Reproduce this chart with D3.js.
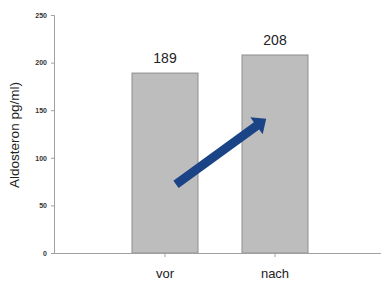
<!DOCTYPE html>
<html><head><meta charset="utf-8">
<script src="https://cdn.jsdelivr.net/npm/d3@7"></script>
<style>body{margin:0;background:#fff}svg{display:block}</style>
</head><body>
<svg id="c" width="381" height="281"></svg>
<script>
const categories = ["vor", "nach"];
const values = [189, 208];
const yTicks = [0, 50, 100, 150, 200, 250];
const yLabel = "Aldosteron pg/ml)";
// arrow annotation in data coordinates: [offset from first category in steps, value]
const arrowFrom = [0.10, 72];
const arrowTo = [0.92, 141];

const svg = d3.select("#c");
const x = d3.scaleBand().domain(categories).range([54, 386]).paddingInner(0.4).paddingOuter(0.709);
const y = d3.scaleLinear().domain([0, 250]).range([253, 15]);
const font = "'Liberation Sans', Arial, sans-serif";

// y axis
const ya = svg.append("g").attr("transform", "translate(54,0)")
  .call(d3.axisLeft(y).tickValues(yTicks).tickSize(3).tickPadding(4));
ya.select(".domain").attr("stroke", "#a0a0a0");
ya.selectAll(".tick line").attr("stroke", "#a0a0a0");
ya.selectAll(".tick text").attr("font-family", font).attr("font-size", 7).attr("font-weight", "bold").attr("fill", "#333");

// bars
svg.selectAll("rect.bar").data(values).join("rect").attr("class", "bar")
  .attr("x", (d, i) => x(categories[i]))
  .attr("y", d => y(d))
  .attr("width", x.bandwidth())
  .attr("height", d => y(0) - y(d))
  .attr("fill", "#bdbdbd").attr("stroke", "#8e8e8e").attr("stroke-width", 1);

// x axis
const xa = svg.append("g").attr("transform", "translate(0,253)")
  .call(d3.axisBottom(x).tickSize(4).tickPadding(12).tickSizeOuter(0));
xa.select(".domain").attr("d", "M54,0.5H381").attr("stroke", "#a0a0a0");
xa.selectAll(".tick line").attr("stroke", "#a0a0a0");
xa.selectAll(".tick text").attr("font-family", font).attr("font-size", 13).attr("fill", "#222");

// value labels
svg.selectAll("text.val").data(values).join("text").attr("class", "val")
  .attr("x", (d, i) => x(categories[i]) + x.bandwidth() / 2)
  .attr("y", d => y(d) - 10)
  .attr("text-anchor", "middle").attr("font-family", font).attr("font-size", 14).attr("fill", "#222")
  .text(d => d);

// y label
svg.append("text").attr("transform", "translate(19,135) rotate(-90)")
  .attr("text-anchor", "middle").attr("font-family", font).attr("font-size", 13.5).attr("fill", "#222")
  .text(yLabel);

// arrow
const px = f => x(categories[0]) + x.bandwidth() / 2 + f * x.step();
const x0 = px(arrowFrom[0]), y0 = y(arrowFrom[1]);
const x1 = px(arrowTo[0]), y1 = y(arrowTo[1]);
const ang = Math.atan2(y1 - y0, x1 - x0);
const len = Math.hypot(x1 - x0, y1 - y0);
const sw = 4.5, hw = 10.5, hl = 12;
const pts = [[0, -sw], [len - hl, -sw], [len - hl, -hw], [len, 0], [len - hl, hw], [len - hl, sw], [0, sw]];
svg.append("polygon")
  .attr("points", pts.map(p => p.join(",")).join(" "))
  .attr("transform", `translate(${x0},${y0}) rotate(${ang * 180 / Math.PI})`)
  .attr("fill", "#1b4487");
</script>
</body></html>
